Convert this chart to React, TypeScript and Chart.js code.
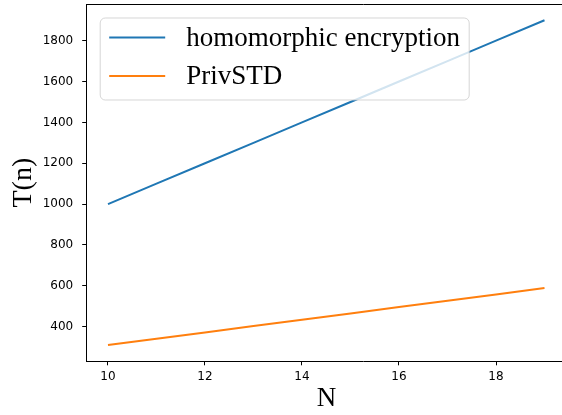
import React, { useEffect, useRef } from "react";
import { Chart, registerables } from "chart.js";

Chart.register(...registerables);

const nValues = [10, 11, 12, 13, 14, 15, 16, 17, 18, 19];
const homomorphicValues = [1000, 1100, 1200, 1300, 1400, 1500, 1600, 1700, 1800, 1900];
const privSTDValues = [310, 341, 372, 403, 434, 465, 496, 527, 558, 589];
const xTickValues = [10, 12, 14, 16, 18];
const yTickValues = [400, 600, 800, 1000, 1200, 1400, 1600, 1800];
const seriesLabels = ["homomorphic encryption", "PrivSTD"];
const seriesColors = ["#1f77b4", "#ff7f0e"];
const xAxisTitle = "N";
const yAxisTitle = "T(n)";

const SERIF = "'Liberation Serif', 'Times New Roman', serif";
const SANS = "'DejaVu Sans', sans-serif";

const spinePlugin = {
  id: "spines",
  afterDraw(chart: any) {
    const { ctx, chartArea } = chart;
    ctx.save();
    ctx.strokeStyle = "#000";
    ctx.lineWidth = 1;
    ctx.beginPath();
    ctx.moveTo(chartArea.left, chartArea.top + 0.5);
    ctx.lineTo(chartArea.right, chartArea.top + 0.5);
    ctx.stroke();
    ctx.restore();
  },
};

const xTitlePlugin = {
  id: "xTitle",
  afterDraw(chart: any) {
    const { ctx, chartArea } = chart;
    const xs = chart.scales.x;
    // the visible plot ends at the matplotlib axis limit (19.45)
    const visibleRight = xs.getPixelForValue(19.45);
    const cx = (chartArea.left + visibleRight) / 2;
    ctx.save();
    ctx.fillStyle = "#000";
    ctx.font = `27px ${SERIF}`;
    ctx.textAlign = "center";
    ctx.textBaseline = "middle";
    ctx.fillText(xAxisTitle, cx, chart.height - 16.2);
    ctx.restore();
  },
};

const legendPlugin = {
  id: "mplLegend",
  afterDatasetsDraw(chart: any) {
    const { ctx, chartArea } = chart;
    const x = chartArea.left + 13.5;
    const y = chartArea.top + 14;
    const w = 369;
    const h = 82;
    const r = 5;
    ctx.save();
    ctx.beginPath();
    ctx.moveTo(x + r, y);
    ctx.lineTo(x + w - r, y);
    ctx.arcTo(x + w, y, x + w, y + r, r);
    ctx.lineTo(x + w, y + h - r);
    ctx.arcTo(x + w, y + h, x + w - r, y + h, r);
    ctx.lineTo(x + r, y + h);
    ctx.arcTo(x, y + h, x, y + h - r, r);
    ctx.lineTo(x, y + r);
    ctx.arcTo(x, y, x + r, y, r);
    ctx.closePath();
    ctx.fillStyle = "rgba(255,255,255,0.8)";
    ctx.fill();
    ctx.strokeStyle = "rgba(204,204,204,0.8)";
    ctx.lineWidth = 1;
    ctx.stroke();

    chart.data.datasets.forEach((ds: any, i: number) => {
      const ly = y + 19.5 + i * 38.5;
      ctx.strokeStyle = ds.borderColor;
      ctx.lineWidth = 2;
      ctx.beginPath();
      ctx.moveTo(x + 9, ly);
      ctx.lineTo(x + 65, ly);
      ctx.stroke();
      ctx.fillStyle = "#000";
      ctx.font = `27px ${SERIF}`;
      ctx.textBaseline = "middle";
      ctx.textAlign = "left";
      ctx.fillText(ds.label, x + 86, ly + 1);
    });
    ctx.restore();
  },
};

const zeroPadding = (scale: any) => {
  scale.paddingTop = 0;
  scale.paddingBottom = 0;
  scale.paddingLeft = 0;
  scale.paddingRight = 0;
};

export default function App() {
  const canvasRef = useRef<HTMLCanvasElement | null>(null);

  useEffect(() => {
    if (!canvasRef.current) return;
    const makePoints = (vals: number[]) => nValues.map((n, i) => ({ x: n, y: vals[i] }));
    const chart = new Chart(canvasRef.current, {
      type: "line",
      data: {
        datasets: [
          {
            label: seriesLabels[0],
            data: makePoints(homomorphicValues),
            borderColor: seriesColors[0],
            backgroundColor: seriesColors[0],
            borderWidth: 2,
            pointRadius: 0,
            tension: 0,
          },
          {
            label: seriesLabels[1],
            data: makePoints(privSTDValues),
            borderColor: seriesColors[1],
            backgroundColor: seriesColors[1],
            borderWidth: 2,
            pointRadius: 0,
            tension: 0,
          },
        ],
      },
      options: {
        animation: false,
        responsive: false,
        devicePixelRatio: 1,
        layout: { padding: { top: 4, right: 20, left: 0, bottom: 0 } },
        plugins: { legend: { display: false }, tooltip: { enabled: false } },
        scales: {
          x: {
            type: "linear",
            min: 9.561,
            max: 20.969,
            afterBuildTicks: (scale: any) => {
              scale.ticks = xTickValues.map((v) => ({ value: v }));
            },
            afterFit: (scale: any) => {
              scale.height = 53.7;
              zeroPadding(scale);
            },
            grid: { display: true, drawOnChartArea: false, drawTicks: true, tickLength: 4, color: "#000", tickColor: "#000" },
            border: { display: true, color: "#000", width: 1 },
            ticks: {
              color: "#000",
              font: { family: SANS, size: 12 },
              padding: 4,
              maxRotation: 0,
              autoSkip: false,
              callback: (v: any) => String(v),
            },
            title: { display: false },
          },
          y: {
            type: "linear",
            min: 230.5,
            max: 1979.5,
            afterBuildTicks: (scale: any) => {
              scale.ticks = yTickValues.map((v) => ({ value: v }));
            },
            afterFit: (scale: any) => {
              scale.width = 86.7;
              zeroPadding(scale);
            },
            grid: { display: true, drawOnChartArea: false, drawTicks: true, tickLength: 4.5, color: "#000", tickColor: "#000" },
            border: { display: true, color: "#000", width: 1 },
            ticks: {
              color: "#000",
              font: { family: SANS, size: 12 },
              padding: 9,
              autoSkip: false,
              callback: (v: any) => String(v),
            },
            title: {
              display: true,
              text: yAxisTitle,
              color: "#000",
              font: { family: SERIF, size: 28 },
              padding: { top: 7, bottom: 0 },
            },
          },
        },
      },
      plugins: [spinePlugin, legendPlugin, xTitlePlugin],
    });
    return () => chart.destroy();
  }, []);

  return (
    <div
      style={{
        position: "fixed",
        left: 0,
        top: 0,
        width: 562,
        height: 415,
        overflow: "hidden",
        background: "#fff",
      }}
    >
      <canvas ref={canvasRef} width={660} height={415} style={{ display: "block" }} />
    </div>
  );
}
